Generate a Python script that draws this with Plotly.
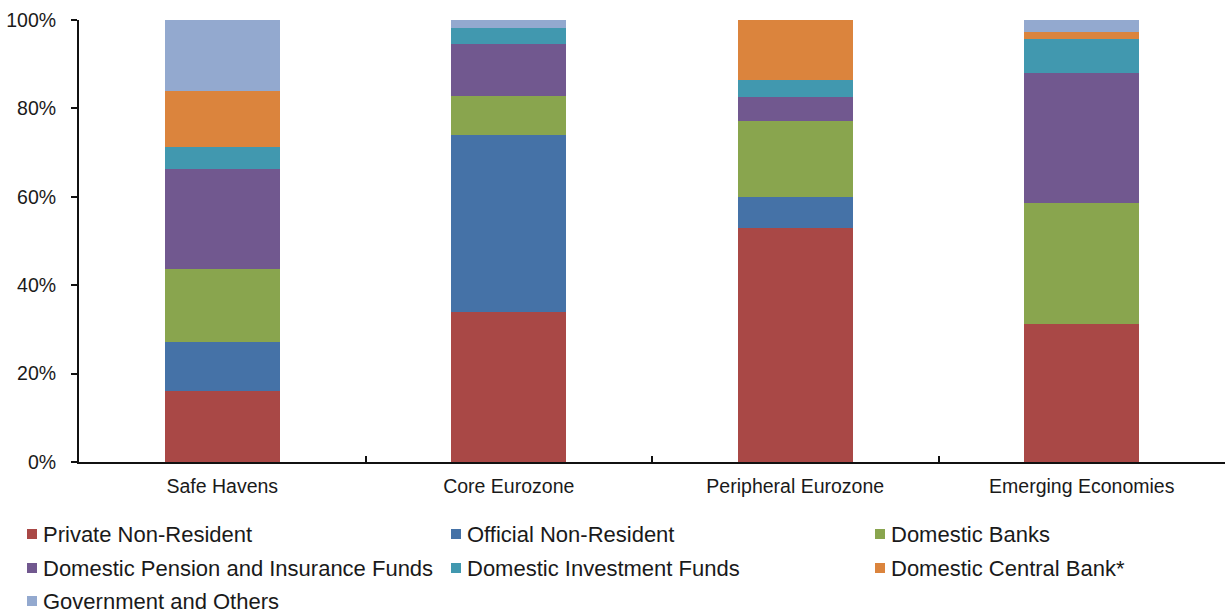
import plotly.graph_objects as go

# Holder categories and their share of each market's government debt (%)
regions = ["Safe Havens", "Core Eurozone", "Peripheral Eurozone", "Emerging Economies"]

private_non_resident = [16.1, 34.0, 53.0, 31.2]
official_non_resident = [11.0, 39.9, 7.0, 0.0]
domestic_banks = [16.6, 8.9, 17.1, 27.3]
pension_insurance = [22.5, 11.7, 5.4, 29.6]
investment_funds = [5.0, 3.6, 4.0, 7.6]
central_bank = [12.8, 0.0, 13.7, 1.6]
government_others = [16.0, 1.9, 0.0, 2.7]

series_names = [
    "Private Non-Resident",
    "Official Non-Resident",
    "Domestic Banks",
    "Domestic Pension and Insurance Funds",
    "Domestic Investment Funds",
    "Domestic Central Bank*",
    "Government and Others",
]
series_values = [
    private_non_resident,
    official_non_resident,
    domestic_banks,
    pension_insurance,
    investment_funds,
    central_bank,
    government_others,
]
colors = ["#A94846", "#4572A7", "#89A54E", "#71588F", "#4198AF", "#DB843D", "#93A9CF"]

y_ticks = [0, 20, 40, 60, 80, 100]
y_tick_labels = ["0%", "20%", "40%", "60%", "80%", "100%"]

FONT = "Liberation Sans, Arial, sans-serif"
TEXT = "#1a1a1a"

fig = go.Figure()
for name, vals, col in zip(series_names, series_values, colors):
    fig.add_trace(go.Bar(
        x=regions, y=vals, name=name,
        marker=dict(color=col, line=dict(width=0)),
        width=0.4, showlegend=False,
    ))

W, H = 1225, 614
ML, MR, MT, MB = 79, 0, 20, 152
pw, ph = W - ML - MR, H - MT - MB


def px_x(x):
    return (x - ML) / pw


def px_y(y):
    return (H - MB - y) / ph


# Legend laid out in three columns below the axis
legend_cols = [27, 451, 875]
legend_rows = [534, 568, 601]
shapes = []
annotations = []
for i, (name, col) in enumerate(zip(series_names, colors)):
    cx = legend_cols[i % 3]
    cy = legend_rows[i // 3]
    shapes.append(dict(
        type="rect", xref="paper", yref="paper",
        x0=px_x(cx), x1=px_x(cx + 10), y0=px_y(cy + 5), y1=px_y(cy - 5),
        fillcolor=col, line=dict(width=0),
    ))
    annotations.append(dict(
        xref="paper", yref="paper", x=px_x(cx + 14), y=px_y(cy),
        xanchor="left", yanchor="middle", text=name, showarrow=False,
        font=dict(family=FONT, size=22, color=TEXT),
    ))

fig.update_layout(
    width=W, height=H,
    margin=dict(l=ML, r=MR, t=MT, b=MB),
    paper_bgcolor="white", plot_bgcolor="white",
    barmode="stack", bargap=0.6,
    font=dict(family=FONT, color=TEXT),
    shapes=shapes, annotations=annotations,
)
fig.update_xaxes(
    type="category", range=[-0.5, 3.5],
    showline=True, linecolor="#111", linewidth=2,
    ticks="inside", tickson="boundaries", ticklen=6, tickcolor="#111", tickwidth=1.5,
    tickfont=dict(family=FONT, size=19.5, color=TEXT),
    ticklabelstandoff=6,
    showgrid=False, zeroline=False,
)
fig.update_yaxes(
    range=[0, 100], tickvals=y_ticks, ticktext=y_tick_labels,
    showline=True, linecolor="#111", linewidth=2,
    ticks="outside", ticklen=6, tickcolor="#111", tickwidth=1.5,
    tickfont=dict(family=FONT, size=19.5, color=TEXT),
    ticklabelstandoff=11,
    showgrid=False, zeroline=False,
)

fig.write_html("out.html")
